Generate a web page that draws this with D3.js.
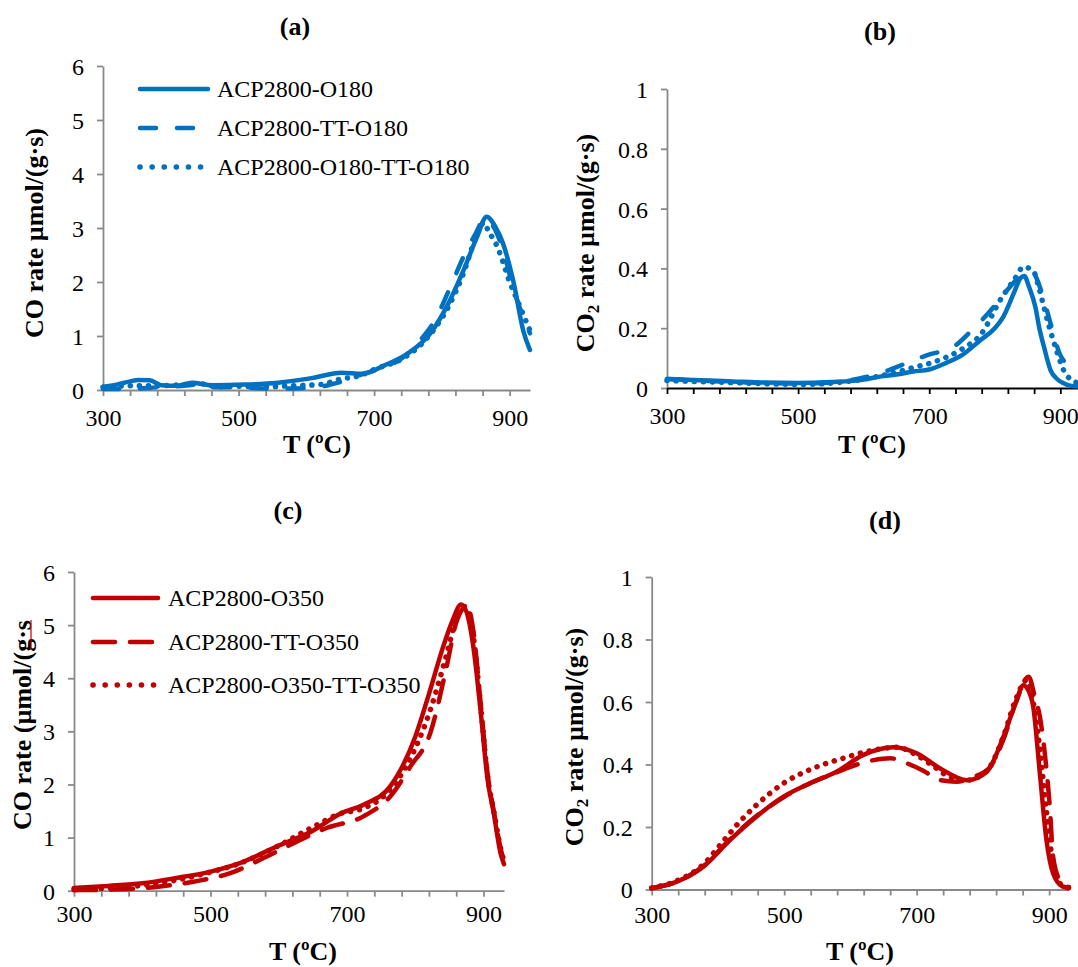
<!DOCTYPE html>
<html>
<head>
<script src="https://d3js.org/d3.v7.min.js"></script>
<style>
    body { margin: 0; background: #fff; }
    svg text { font-family: "Liberation Serif", "Times New Roman", serif; fill: #000; }
</style>
</head>
<body>
<div id="chart"></div>
<script>
// axis ticks
const tempTicks = d3.range(300, 901, 40);
const tempLabels = [300, 500, 700, 900];
const coTicks = [0, 1, 2, 3, 4, 5, 6];
const co2Ticks = [0, 0.2, 0.4, 0.6, 0.8, 1];

// legend names
const namesO180 = ["ACP2800-O180", "ACP2800-TT-O180", "ACP2800-O180-TT-O180"];
const namesO350 = ["ACP2800-O350", "ACP2800-TT-O350", "ACP2800-O350-TT-O350"];

// (a) CO rate, [T, value]
const aO180 = [[300,0.06],[320,0.1],[340,0.16],[352,0.185],[369,0.18],[386,0.09],[410,0.08],[431,0.135],[461,0.09],[509,0.1],[558,0.135],[608,0.22],[652,0.32],[682,0.3],[716,0.46],[750,0.68],[783,1.05],[807,1.54],[832,2.22],[852,2.84],[866,3.21],[879,3.02],[890,2.72],[906,1.98],[920,1.1],[930,0.74]];
const aTTO180 = [[300,0.02],[340,0.02],[380,0.05],[420,0.08],[440,0.1],[460,0.05],[500,0.05],[540,0.03],[580,0.03],[620,0.06],[650,0.15],[680,0.28],[700,0.36],[740,0.58],[770,0.95],[790,1.3],[815,1.98],[832,2.47],[850,2.9],[863,3.18],[875,3.05],[890,2.6],[905,1.9],[920,1.35],[930,1.05]];
const aO180TTO180 = [[300,0.05],[340,0.08],[380,0.08],[420,0.1],[440,0.12],[470,0.06],[500,0.07],[540,0.06],[580,0.08],[620,0.1],[650,0.2],[680,0.27],[700,0.38],[740,0.57],[770,0.85],[790,1.15],[810,1.55],[830,2.1],[851,2.85],[862,3.1],[870,2.9],[876,2.8],[885,2.55],[900,2.0],[910,1.7],[920,1.4],[930,1.1]];

// (b) CO2 rate
const bO180 = [[300,0.03],[340,0.027],[400,0.022],[450,0.018],[500,0.017],[550,0.02],[600,0.028],[625,0.038],[650,0.045],[676,0.055],[700,0.062],[727,0.085],[750,0.11],[778,0.16],[800,0.2],[813,0.238],[829,0.317],[839,0.367],[845,0.375],[852,0.34],[862,0.27],[868,0.2],[875,0.138],[885,0.06],[895,0.03],[905,0.016],[915,0.008],[930,0.005]];
const bTTO180 = [[300,0.03],[400,0.02],[500,0.015],[560,0.02],[600,0.035],[620,0.045],[650,0.07],[697,0.11],[737,0.138],[768,0.2],[790,0.25],[803,0.283],[820,0.33],[840,0.375],[857,0.387],[870,0.33],[877,0.28],[885,0.216],[900,0.11],[912,0.078],[920,0.07],[930,0.065]];
const bO180TTO180 = [[300,0.025],[400,0.018],[500,0.012],[560,0.018],[600,0.03],[635,0.045],[670,0.065],[711,0.09],[750,0.13],[779,0.18],[810,0.3],[829,0.36],[844,0.405],[859,0.39],[868,0.33],[875,0.27],[885,0.19],[895,0.12],[905,0.06],[915,0.03],[930,0.015]];

// (c) CO rate
const cO350 = [[300,0.05],[350,0.09],[400,0.14],[450,0.24],[500,0.36],[543,0.52],[600,0.85],[650,1.13],[690,1.45],[724,1.62],[763,1.96],[800,2.9],[820,3.7],[841,4.6],[855,5.1],[867,5.39],[875,5.25],[885,4.6],[896,3.35],[906,2.09],[915,1.46],[925,0.7],[930,0.5]];
const cTTO350 = [[300,0.01],[377,0.03],[426,0.08],[475,0.17],[529,0.33],[577,0.61],[621,0.89],[670,1.18],[724,1.4],[763,1.77],[793,2.34],[822,2.97],[845,4.16],[860,5.05],[876,5.36],[885,4.9],[896,3.5],[906,2.2],[915,1.5],[925,0.8],[930,0.55]];
const cO350TTO350 = [[300,0.03],[350,0.05],[400,0.1],[450,0.2],[500,0.35],[550,0.55],[600,0.85],[650,1.2],[690,1.45],[724,1.55],[763,1.9],[797,2.6],[822,3.4],[845,4.4],[860,5.1],[872,5.35],[885,4.8],[896,3.45],[906,2.15],[915,1.5],[925,0.8],[930,0.55]];

// (d) CO2 rate
const dO350 = [[300,0.004],[338,0.025],[378,0.073],[418,0.158],[458,0.233],[499,0.297],[539,0.34],[579,0.377],[619,0.43],[665,0.455],[700,0.436],[735,0.388],[776,0.35],[806,0.377],[831,0.489],[850,0.6],[861,0.654],[868,0.64],[876,0.585],[886,0.372],[896,0.158],[906,0.052],[920,0.01],[930,0.005]];
const dTTO350 = [[300,0.005],[338,0.025],[378,0.075],[418,0.16],[458,0.235],[499,0.295],[539,0.34],[579,0.375],[610,0.4],[635,0.414],[660,0.42],[685,0.404],[710,0.38],[735,0.35],[760,0.345],[785,0.36],[810,0.39],[831,0.48],[850,0.6],[869,0.681],[878,0.62],[886,0.553],[894,0.425],[901,0.265],[906,0.105],[916,0.03],[926,0.01],[930,0.008]];
const dO350TTO350 = [[300,0.005],[338,0.028],[378,0.08],[410,0.16],[433,0.217],[458,0.27],[499,0.34],[544,0.388],[589,0.42],[635,0.446],[670,0.455],[700,0.43],[725,0.395],[750,0.36],[776,0.35],[806,0.38],[831,0.49],[850,0.61],[866,0.67],[876,0.6],[886,0.45],[896,0.25],[906,0.08],[916,0.02],[930,0.005]];

const blue = "#0070C0";
const red = "#C00000";
const axisGray = "#898989";
const serif = '"Liberation Serif", "Times New Roman", serif';

const svg = d3.select("#chart").append("svg")
    .attr("width", 1078)
    .attr("height", 967);

const panels = [
    {title: "(a)", tx: 295, ty: 35, left: 103, right: 530, bottom: 390, top: 66, ymax: 6, yTicks: coTicks,
     yTitle: ["CO rate µmol/(g·s)"], ytx: 34, yty: 233, xtx: 317, xty: 453, labOff: 36, xAxisColor: axisGray,
     color: blue, series: [aO180, aTTO180, aO180TTO180], names: namesO180,
     legend: {x1: 138, x2: 210, tx: 217, ys: [89, 128, 167]}, dash: "16,21"},
    {title: "(b)", tx: 880, ty: 40, left: 667, right: 1080, bottom: 388, top: 89, ymax: 1, yTicks: co2Ticks,
     yTitle: ["CO", "2", " rate µmol/(g·s)"], ytx: 585, yty: 243, xtx: 872, xty: 453, labOff: 36, xAxisColor: "#000",
     color: blue, series: [bO180, bTTO180, bO180TTO180], dash: "16,21"},
    {title: "(c)", tx: 288, ty: 519, left: 74, right: 504, bottom: 890.7, top: 572, ymax: 6, yTicks: coTicks,
     yTitle: ["CO rate (µmol/(g·s"], ytx: 22, yty: 725, xtx: 303, xty: 960, labOff: 31, xAxisColor: axisGray,
     color: red, series: [cO350, cTTO350, cO350TTO350], names: namesO350,
     legend: {x1: 91, x2: 160, tx: 168, ys: [598, 642, 685]}, dash: "22,15", mark: true},
    {title: "(d)", tx: 885, ty: 529, left: 651.7, right: 1069, bottom: 889.5, top: 577, ymax: 1, yTicks: co2Ticks,
     yTitle: ["CO", "2", " rate µmol/(g·s)"], ytx: 574, yty: 737, xtx: 860, xty: 960, labOff: 33, xAxisColor: axisGray,
     color: red, series: [dO350, dTTO350, dO350TTO350], dash: "22,15"}
];

// solid, dashed, dotted
const styles = [
    {dash: null, legendDash: null, width: 4.5},
    {dash: "dash", legendDash: "dash", width: 4.5},
    {dash: "0.1,9", legendDash: "0.1,12", width: 5.5}
];

panels.forEach(drawPanel);

function drawPanel(p) {
    const x = d3.scaleLinear().domain([300, 930]).range([p.left, p.right]);
    const y = d3.scaleLinear().domain([0, p.ymax]).range([p.bottom, p.top]);
    const g = svg.append("g");

    // title
    g.append("text")
        .attr("x", p.tx).attr("y", p.ty)
        .attr("text-anchor", "middle")
        .attr("font-size", 26).attr("font-weight", "bold")
        .text(p.title);

    // y axis
    const ya = g.append("g")
        .attr("transform", `translate(${p.left},0)`)
        .call(d3.axisLeft(y).tickValues(p.yTicks).tickSize(6).tickSizeOuter(0).tickFormat(d => d))
        .attr("font-family", serif).attr("font-size", 24);
    ya.select(".domain").attr("stroke", axisGray).attr("stroke-width", 1.8);
    ya.selectAll(".tick line").attr("stroke", axisGray).attr("stroke-width", 1.8);
    ya.selectAll(".tick text")
        .attr("x", -19).attr("dy", "0.35em");

    // x axis
    const xa = g.append("g")
        .attr("transform", `translate(0,${p.bottom})`)
        .call(d3.axisBottom(x).tickValues(tempTicks).tickSize(6).tickSizeOuter(0)
            .tickFormat(d => tempLabels.includes(d) ? d : ""))
        .attr("font-family", serif).attr("font-size", 24);
    xa.select(".domain").attr("stroke", p.xAxisColor).attr("stroke-width", 1.8);
    xa.selectAll(".tick line").attr("stroke", p.xAxisColor).attr("stroke-width", 1.8);
    xa.selectAll(".tick text")
        .attr("y", p.labOff).attr("dy", null);

    // axis titles
    const yt = g.append("text")
        .attr("transform", `translate(${p.ytx},${p.yty}) rotate(-90)`)
        .attr("text-anchor", "middle").attr("dy", "0.35em")
        .attr("font-size", 26).attr("font-weight", "bold");
    if (p.yTitle.length === 1) {
        yt.text(p.yTitle[0]);
    } else {
        yt.append("tspan").text(p.yTitle[0]);
        yt.append("tspan").attr("font-size", 17).attr("dy", "0.3em").text(p.yTitle[1]);
        yt.append("tspan").attr("dy", "-0.2em").text(p.yTitle[2]);
    }
    // little red spell-check mark over the end of the (c) title
    if (p.mark) {
        g.append("line")
            .attr("x1", p.ytx + 9).attr("x2", p.ytx + 9)
            .attr("y1", 620).attr("y2", 650)
            .attr("stroke", red).attr("stroke-width", 1.2);
    }
    g.append("text")
        .attr("x", p.xtx).attr("y", p.xty)
        .attr("text-anchor", "middle")
        .attr("font-size", 26).attr("font-weight", "bold")
        .text("T (ºC)");

    // curves
    const line = d3.line()
        .x(d => x(d[0]))
        .y(d => y(d[1]))
        .curve(d3.curveMonotoneX);

    p.series.forEach((s, i) => {
        const st = styles[i];
        g.append("path")
            .datum(s)
            .attr("fill", "none")
            .attr("stroke", p.color)
            .attr("stroke-width", st.width)
            .attr("stroke-linecap", "round")
            .attr("stroke-linejoin", "round")
            .attr("stroke-dasharray", st.dash === "dash" ? p.dash : st.dash)
            .attr("d", line);
    });

    // legend
    if (p.legend) {
        p.names.forEach((name, i) => {
            const st = styles[i];
            const ly = p.legend.ys[i];
            g.append("line")
                .attr("x1", p.legend.x1 + 2).attr("x2", p.legend.x2 - 2)
                .attr("y1", ly).attr("y2", ly)
                .attr("stroke", p.color)
                .attr("stroke-width", st.width)
                .attr("stroke-linecap", "round")
                .attr("stroke-dasharray", st.legendDash === "dash" ? p.dash : st.legendDash);
            g.append("text")
                .attr("x", p.legend.tx).attr("y", ly)
                .attr("dy", "0.35em")
                .attr("font-size", 24)
                .text(name);
        });
    }
}
</script>
</body>
</html>
